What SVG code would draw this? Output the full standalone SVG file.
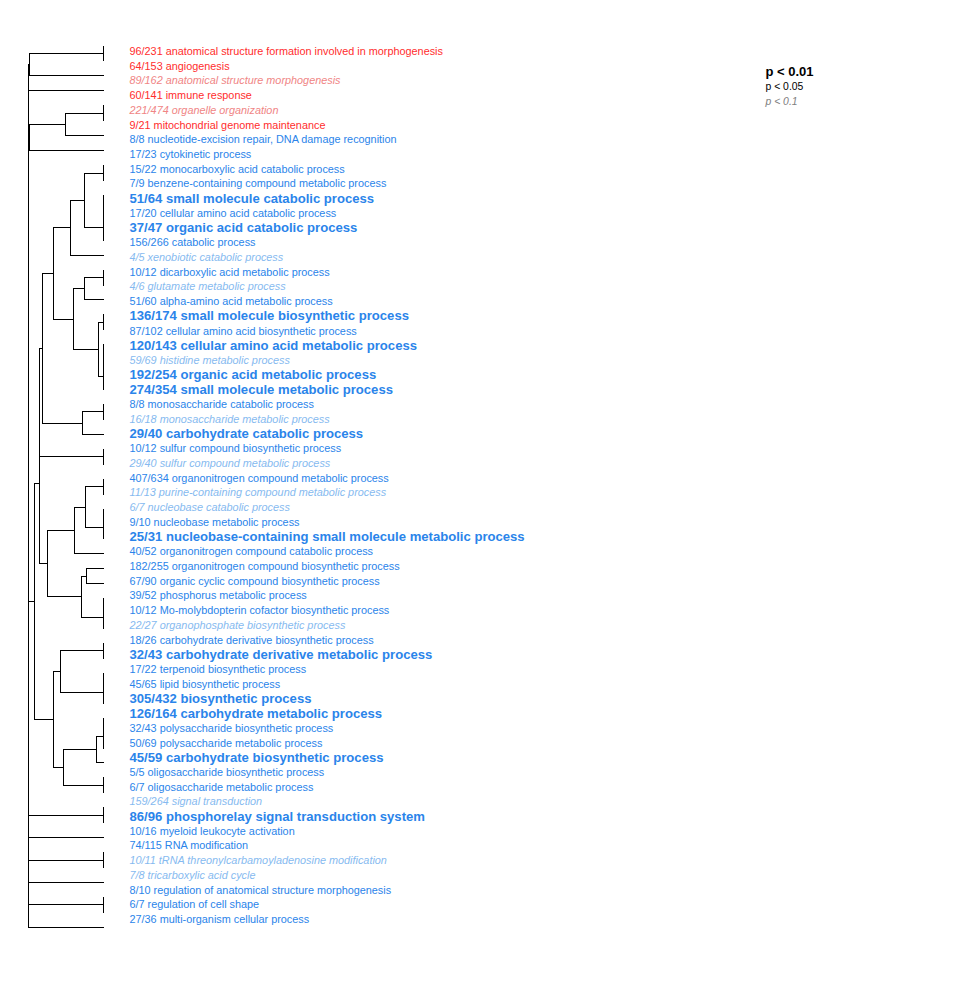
<svg xmlns="http://www.w3.org/2000/svg" width="958" height="988" viewBox="0 0 958 988">
<style>
text{font-family:"Liberation Sans",Arial,Helvetica,sans-serif;font-size:10.85px}
.r{fill:#FF2D2D}
.ri{fill:#F08585;font-style:italic}
.b{fill:#2A84EA}
.bb{fill:#2A84EA;font-weight:bold;font-size:13.1px}
.bi{fill:#86BAF0;font-style:italic}
.lb{fill:#000;font-weight:bold;font-size:13px}
.ln{fill:#000;font-size:10.4px}
.li{fill:#808080;font-style:italic;font-size:10.4px}
#connectors path{fill:none;stroke:#000;stroke-width:1;stroke-linecap:square;shape-rendering:crispEdges}
</style>
<rect width="958" height="988" fill="#fff"/>
<g id="connectors">
<path d="M28.5 64.5V927.5 M28.5 64.5H29.5 M28.5 90.5H103.5 M28.5 137.5H29.5 M28.5 601.5H34.5 M28.5 815.5H103.5 M103.5 807.5V822.5 M28.5 837.5H103.5 M28.5 860.5H103.5 M103.5 852.5V867.5 M28.5 882.5H103.5 M28.5 904.5H103.5 M103.5 897.5V912.5 M28.5 927.5H103.5"/>
<path d="M29.5 53.5V75.5 M29.5 53.5H103.5 M103.5 46.5V60.5 M29.5 75.5H103.5"/>
<path d="M29.5 124.5V150.5 M29.5 124.5H65.5 M29.5 150.5H103.5"/>
<path d="M65.5 113.5V135.5 M65.5 113.5H103.5 M103.5 105.5V120.5 M65.5 135.5H103.5"/>
<path d="M34.5 483.5V719.5 M34.5 483.5H39.5 M34.5 719.5H53.5"/>
<path d="M39.5 402.5V563.5 M39.5 563.5H47.5"/>
<path d="M39.5 348.5V456.5 M39.5 348.5H42.5 M39.5 456.5H103.5 M103.5 449.5V464.5"/>
<path d="M42.5 273.5V423.5 M42.5 273.5H53.5 M42.5 423.5H82.5"/>
<path d="M53.5 227.5V319.5 M53.5 227.5H70.5 M53.5 319.5H73.5"/>
<path d="M70.5 200.5V255.5 M70.5 200.5H84.5 M70.5 255.5H103.5"/>
<path d="M84.5 173.5V227.5 M84.5 173.5H103.5 M103.5 165.5V180.5 M84.5 227.5H103.5 M103.5 195.5V240.5"/>
<path d="M73.5 288.5V349.5 M73.5 288.5H84.5 M73.5 349.5H98.5"/>
<path d="M84.5 277.5V299.5 M84.5 277.5H103.5 M103.5 270.5V285.5 M84.5 299.5H103.5"/>
<path d="M98.5 322.5V376.5 M98.5 322.5H103.5 M103.5 314.5V329.5 M98.5 376.5H103.5 M103.5 344.5V389.5"/>
<path d="M82.5 411.5V434.5 M82.5 411.5H103.5 M103.5 404.5V419.5 M82.5 434.5H103.5"/>
<path d="M47.5 530.5V596.5 M47.5 530.5H74.5 M47.5 596.5H81.5"/>
<path d="M74.5 507.5V553.5 M74.5 507.5H85.5 M74.5 553.5H103.5"/>
<path d="M85.5 486.5V527.5 M85.5 486.5H103.5 M103.5 479.5V494.5 M85.5 527.5H103.5 M103.5 509.5V538.5"/>
<path d="M81.5 576.5V617.5 M81.5 576.5H86.5 M81.5 617.5H103.5 M103.5 598.5V628.5"/>
<path d="M86.5 568.5V583.5 M86.5 568.5H103.5 M86.5 583.5H103.5"/>
<path d="M53.5 671.5V767.5 M53.5 671.5H60.5 M53.5 767.5H63.5"/>
<path d="M60.5 650.5V692.5 M60.5 650.5H103.5 M103.5 643.5V658.5 M60.5 692.5H103.5 M103.5 673.5V703.5"/>
<path d="M63.5 749.5V785.5 M63.5 749.5H96.5 M63.5 785.5H103.5 M103.5 777.5V792.5"/>
<path d="M96.5 736.5V762.5 M96.5 736.5H103.5 M103.5 718.5V748.5 M96.5 762.5H103.5"/>
</g>
<g id="n0"><text class="r" x="129.5" y="55">96/231 anatomical structure formation involved in morphogenesis</text></g>
<g id="n1"><text class="r" x="129.5" y="69.7">64/153 angiogenesis</text></g>
<g id="n2"><text class="ri" x="129.5" y="84.4">89/162 anatomical structure morphogenesis</text></g>
<g id="n3"><text class="r" x="129.5" y="99.1">60/141 immune response</text></g>
<g id="n4"><text class="ri" x="129.5" y="113.8">221/474 organelle organization</text></g>
<g id="n5"><text class="r" x="129.5" y="128.6">9/21 mitochondrial genome maintenance</text></g>
<g id="n6"><text class="b" x="129.5" y="143.3">8/8 nucleotide-excision repair, DNA damage recognition</text></g>
<g id="n7"><text class="b" x="129.5" y="158">17/23 cytokinetic process</text></g>
<g id="n8"><text class="b" x="129.5" y="172.7">15/22 monocarboxylic acid catabolic process</text></g>
<g id="n9"><text class="b" x="129.5" y="187.4">7/9 benzene-containing compound metabolic process</text></g>
<g id="n10"><text class="bb" x="129.5" y="202.7">51/64 small molecule catabolic process</text></g>
<g id="n11"><text class="b" x="129.5" y="216.8">17/20 cellular amino acid catabolic process</text></g>
<g id="n12"><text class="bb" x="129.5" y="232.1">37/47 organic acid catabolic process</text></g>
<g id="n13"><text class="b" x="129.5" y="246.3">156/266 catabolic process</text></g>
<g id="n14"><text class="bi" x="129.5" y="261">4/5 xenobiotic catabolic process</text></g>
<g id="n15"><text class="b" x="129.5" y="275.7">10/12 dicarboxylic acid metabolic process</text></g>
<g id="n16"><text class="bi" x="129.5" y="290.4">4/6 glutamate metabolic process</text></g>
<g id="n17"><text class="b" x="129.5" y="305.1">51/60 alpha-amino acid metabolic process</text></g>
<g id="n18"><text class="bb" x="129.5" y="320.4">136/174 small molecule biosynthetic process</text></g>
<g id="n19"><text class="b" x="129.5" y="334.5">87/102 cellular amino acid biosynthetic process</text></g>
<g id="n20"><text class="bb" x="129.5" y="349.8">120/143 cellular amino acid metabolic process</text></g>
<g id="n21"><text class="bi" x="129.5" y="364">59/69 histidine metabolic process</text></g>
<g id="n22"><text class="bb" x="129.5" y="379.3">192/254 organic acid metabolic process</text></g>
<g id="n23"><text class="bb" x="129.5" y="394">274/354 small molecule metabolic process</text></g>
<g id="n24"><text class="b" x="129.5" y="408.1">8/8 monosaccharide catabolic process</text></g>
<g id="n25"><text class="bi" x="129.5" y="422.8">16/18 monosaccharide metabolic process</text></g>
<g id="n26"><text class="bb" x="129.5" y="438.1">29/40 carbohydrate catabolic process</text></g>
<g id="n27"><text class="b" x="129.5" y="452.2">10/12 sulfur compound biosynthetic process</text></g>
<g id="n28"><text class="bi" x="129.5" y="466.9">29/40 sulfur compound metabolic process</text></g>
<g id="n29"><text class="b" x="129.5" y="481.6">407/634 organonitrogen compound metabolic process</text></g>
<g id="n30"><text class="bi" x="129.5" y="496.4">11/13 purine-containing compound metabolic process</text></g>
<g id="n31"><text class="bi" x="129.5" y="511.1">6/7 nucleobase catabolic process</text></g>
<g id="n32"><text class="b" x="129.5" y="525.8">9/10 nucleobase metabolic process</text></g>
<g id="n33"><text class="bb" x="129.5" y="541.1">25/31 nucleobase-containing small molecule metabolic process</text></g>
<g id="n34"><text class="b" x="129.5" y="555.2">40/52 organonitrogen compound catabolic process</text></g>
<g id="n35"><text class="b" x="129.5" y="569.9">182/255 organonitrogen compound biosynthetic process</text></g>
<g id="n36"><text class="b" x="129.5" y="584.6">67/90 organic cyclic compound biosynthetic process</text></g>
<g id="n37"><text class="b" x="129.5" y="599.3">39/52 phosphorus metabolic process</text></g>
<g id="n38"><text class="b" x="129.5" y="614.1">10/12 Mo-molybdopterin cofactor biosynthetic process</text></g>
<g id="n39"><text class="bi" x="129.5" y="628.8">22/27 organophosphate biosynthetic process</text></g>
<g id="n40"><text class="b" x="129.5" y="643.5">18/26 carbohydrate derivative biosynthetic process</text></g>
<g id="n41"><text class="bb" x="129.5" y="658.8">32/43 carbohydrate derivative metabolic process</text></g>
<g id="n42"><text class="b" x="129.5" y="672.9">17/22 terpenoid biosynthetic process</text></g>
<g id="n43"><text class="b" x="129.5" y="687.6">45/65 lipid biosynthetic process</text></g>
<g id="n44"><text class="bb" x="129.5" y="702.9">305/432 biosynthetic process</text></g>
<g id="n45"><text class="bb" x="129.5" y="717.6">126/164 carbohydrate metabolic process</text></g>
<g id="n46"><text class="b" x="129.5" y="731.8">32/43 polysaccharide biosynthetic process</text></g>
<g id="n47"><text class="b" x="129.5" y="746.5">50/69 polysaccharide metabolic process</text></g>
<g id="n48"><text class="bb" x="129.5" y="761.8">45/59 carbohydrate biosynthetic process</text></g>
<g id="n49"><text class="b" x="129.5" y="775.9">5/5 oligosaccharide biosynthetic process</text></g>
<g id="n50"><text class="b" x="129.5" y="790.6">6/7 oligosaccharide metabolic process</text></g>
<g id="n51"><text class="bi" x="129.5" y="805.3">159/264 signal transduction</text></g>
<g id="n52"><text class="bb" x="129.5" y="820.6">86/96 phosphorelay signal transduction system</text></g>
<g id="n53"><text class="b" x="129.5" y="834.7">10/16 myeloid leukocyte activation</text></g>
<g id="n54"><text class="b" x="129.5" y="849.4">74/115 RNA modification</text></g>
<g id="n55"><text class="bi" x="129.5" y="864.2">10/11 tRNA threonylcarbamoyladenosine modification</text></g>
<g id="n56"><text class="bi" x="129.5" y="878.9">7/8 tricarboxylic acid cycle</text></g>
<g id="n57"><text class="b" x="129.5" y="893.6">8/10 regulation of anatomical structure morphogenesis</text></g>
<g id="n58"><text class="b" x="129.5" y="908.3">6/7 regulation of cell shape</text></g>
<g id="n59"><text class="b" x="129.5" y="923">27/36 multi-organism cellular process</text></g>
<g id="legend">
<text class="lb" x="765.5" y="76">p &lt; 0.01</text>
<text class="ln" x="765.5" y="89.8">p &lt; 0.05</text>
<text class="li" x="765.5" y="104.6">p &lt; 0.1</text>
</g>
</svg>
